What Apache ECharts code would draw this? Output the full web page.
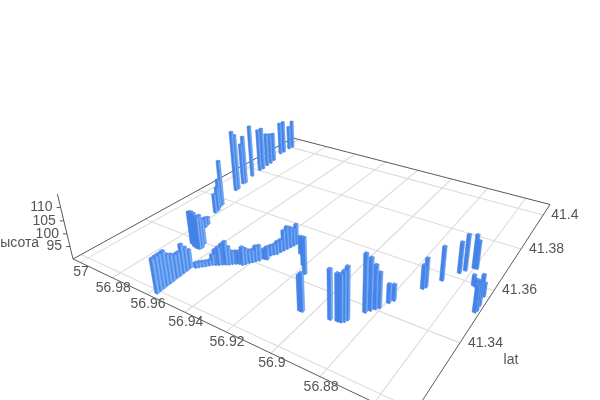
<!DOCTYPE html><html><head><meta charset="utf-8"><style>html,body{margin:0;background:#fff}#c{width:600px;height:400px}</style>
<script src="https://cdn.jsdelivr.net/npm/echarts@6/dist/echarts.min.js"></script></head><body><div id="c"></div>
<script>
var lonTicks=[57,56.98,56.96,56.94,56.92,56.9,56.88,56.86];
var latTicks=[41.4,41.38,41.36,41.34,41.32];
var heightTicks=[95,100,105,110];
var lon=[56.9840,56.9834,56.9818,56.9814,56.9884,56.9886,56.9899,56.9902,56.9920,56.9930,56.9928,56.9936,56.9938,56.9946,56.9970,56.9968,56.9971,56.9969,
56.9574,56.9576,56.9577,56.9579,56.9579,56.9581,56.9583,56.9583,56.9585,56.9586,56.9588,
56.9711,56.9687,56.9669,56.9656,56.9653,56.9668,56.9761,56.9768,
56.9569,56.9561,56.9553,56.9543,56.9535,56.9526,56.9515,56.9503,56.9493,56.9481,56.9470,56.9461,56.9450,56.9438,56.9421,56.9415,56.9408,56.9399,56.9392,56.9383,
56.9373,56.9360,56.9366,56.9359,56.9350,56.9346,56.9342,56.9337,56.9333,56.9329,56.9327,56.9266,56.9207,56.9167,56.9049,56.9039,
56.8927,56.8900,56.8887,56.8878,56.8873,56.8840,56.8829,56.8818,56.8808,56.8792,56.8782,56.8721,56.8715,56.8679,56.8639,56.8625,56.8601,56.8590,56.8560,56.8547,56.8530,56.8519,56.8502,56.8496,56.8494,56.8497];
var lat=[41.3573,41.3559,41.3543,41.3529,41.3660,41.3672,41.3714,41.3705,41.3760,41.3804,41.3819,41.3845,41.3865,41.3887,41.3941,41.3958,41.3990,41.4007,
41.3193,41.3204,41.3214,41.3225,41.3235,41.3246,41.3258,41.3268,41.3280,41.3291,41.3303,
41.3381,41.3375,41.3373,41.3374,41.3381,41.3397,41.3458,41.3472,
41.3310,41.3316,41.3322,41.3327,41.3334,41.3340,41.3344,41.3348,41.3354,41.3358,41.3362,41.3368,41.3373,41.3377,41.3378,41.3385,41.3393,41.3399,41.3407,41.3413,
41.3425,41.3427,41.3445,41.3453,41.3459,41.3470,41.3480,41.3490,41.3501,41.3511,41.3521,41.3490,41.3453,41.3427,41.3313,41.3313,
41.3323,41.3327,41.3328,41.3333,41.3341,41.3382,41.3393,41.3403,41.3411,41.3437,41.3450,41.3522,41.3531,41.3574,41.3623,41.3640,41.3660,41.3661,41.3595,41.3592,41.3591,41.3588,41.3569,41.3534,41.3515,41.3507];
var height=[109,102,100,98,116,114,111,108,113,109,109,105,104,103,105,105,101,103,
103,103,103,103,101,100,99,99,101,99,97,
103,104,104,103,103,100,94,93,
92,92,92,92,92,94,96,97,98,99,97,95,95,95,97,96,95,95,96,96,
94,95,94,94,95,95,98,99,98,97,98,97,101,104,103,104,
108,107,107,108,109,111,109,106,103,97,96,99,101,103,102,104,103,101,94,93,93,96,95,98,99,100];

var LON=[56.8479,57.0046],LAT=[41.3177,41.407],Z=[90,115];
var H={a:-306.93,b:505.16,c:410,d:-53.8,e:-79.23,f:419.5,g:0.41197,h:0.66393,zw:-0.0781,vx:340,vy:1370};
function uOf(o){return (o-LON[0])/(LON[1]-LON[0]);}
function vOf(t){return (t-LAT[0])/(LAT[1]-LAT[0]);}
function proj(o,t,z){var u=uOf(o),v=vOf(t),w=(z-Z[0])/(Z[1]-Z[0]);
 var W=H.g*u+H.h*v+1+w*H.zw;
 return [(H.a*u+H.b*v+H.c+w*H.zw*H.vx)/W,(H.d*u+H.e*v+H.f+w*H.zw*H.vy)/W];}
function depth(o,t){return H.g*uOf(o)+H.h*vOf(t)+1;}

var gridLines=[],axisLines=[];
lonTicks.forEach(function(o){gridLines.push([o,LAT[0],o,LAT[1]]);});
latTicks.forEach(function(t){gridLines.push([LON[0],t,LON[1],t]);});
axisLines.push([LON[1],LAT[0],LON[0],LAT[0]],[LON[0],LAT[0],LON[0],LAT[1]],[LON[1],LAT[0],LON[1],LAT[1]],[LON[1],LAT[1],LON[0],LAT[1]]);

function lineSeries(rows,color,width,zl){return {type:'custom',coordinateSystem:'none',silent:true,animation:false,z:zl,clip:false,data:rows,
 renderItem:function(p,api){var a=proj(api.value(0),api.value(1),Z[0]),b=proj(api.value(2),api.value(3),Z[0]);
  return {type:'line',shape:{x1:a[0],y1:a[1],x2:b[0],y2:b[1]},style:{stroke:color,lineWidth:width}};}};}

var DU=0.00068,DV=0.00038;
var bars=lon.map(function(o,i){return [o,lat[i],height[i]];}).sort(function(p,q){return depth(q[0],q[1])-depth(p[0],p[1]);});
function renderBar(p,api){var o=api.value(0),t=api.value(1),z=api.value(2);
 var o0=o-DU,o1=o+DU,t0=t-DV,t1=t+DV,b=Z[0];
 function poly(pts,fill,edge){return {type:'polygon',shape:{points:pts},style:{fill:fill,stroke:edge||fill,lineWidth:0.5}};}
 return {type:'group',children:[
  poly([proj(o0,t0,b),proj(o0,t1,b),proj(o0,t1,z),proj(o0,t0,z)],'#78aef4','#4f8bea'),
  poly([proj(o0,t0,b),proj(o1,t0,b),proj(o1,t0,z),proj(o0,t0,z)],'#4585ea','#3f78e0'),
  poly([proj(o0,t0,z),proj(o1,t0,z),proj(o1,t1,z),proj(o0,t1,z)],'#5c96ee','#3f78e0')
 ]};}

var FONT='Liberation Sans',TC='#555',FS=14;
function txt(x,y,s,al,fill){return {type:'text',x:x,y:y,style:{text:s,fill:fill||TC,font:FS+'px "'+FONT+'"',align:al,verticalAlign:'middle'}};}
function labelSeries(rows,fn,zl){return {type:'custom',coordinateSystem:'none',silent:true,animation:false,z:zl,clip:false,data:rows,
 renderItem:function(p,api){return fn(api.value(0));}};}

var option={animation:false,backgroundColor:'#fff',series:[
 lineSeries(gridLines,'#dcdcdc',1.1,1),
 lineSeries(axisLines,'#5a5a5a',1,2),
 {type:'custom',coordinateSystem:'none',silent:true,animation:false,z:2,clip:false,data:[[Z[1]]].concat(heightTicks.map(function(h){return [h];})),
  renderItem:function(p,api){var z=api.value(0),a=proj(LON[1],LAT[0],z);
   if(p.dataIndex===0){var b=proj(LON[1],LAT[0],Z[0]);return {type:'line',shape:{x1:b[0],y1:b[1],x2:a[0],y2:a[1]},style:{stroke:'#5a5a5a',lineWidth:1}};}
   return {type:'line',shape:{x1:a[0],y1:a[1],x2:a[0]-4,y2:a[1]},style:{stroke:'#5a5a5a',lineWidth:1}};}},
 {type:'custom',coordinateSystem:'none',silent:true,animation:false,z:3,clip:false,data:bars,renderItem:renderBar},
 labelSeries(lonTicks.slice(0,7).map(function(v){return [v];}),function(v){var a=proj(v,LAT[0],Z[0]);return txt(a[0]+1,a[1]+10,String(v),'center');},4),
 labelSeries(latTicks.slice(0,4).map(function(v){return [v];}),function(v){var a=proj(LON[0],v,Z[0]);return txt(a[0]+8,a[1],String(v),'left');},4),
 labelSeries(heightTicks.map(function(v){return [v];}),function(v){var a=proj(LON[1],LAT[0],v);return txt(a[0]-8,a[1],String(v),'right');},4),
 {type:'custom',coordinateSystem:'none',silent:true,animation:false,z:4,clip:false,data:[['высота',39,243,'right'],['lat',511,360,'center']],
  renderItem:function(p,api){var d=nameRows[p.dataIndex];return txt(d[1],d[2],d[0],d[3]);}}
]};
var nameRows=option.series[7].data;
var chart=echarts.init(document.getElementById('c'),null,{renderer:'canvas'});
chart.setOption(option);
</script></body></html>
